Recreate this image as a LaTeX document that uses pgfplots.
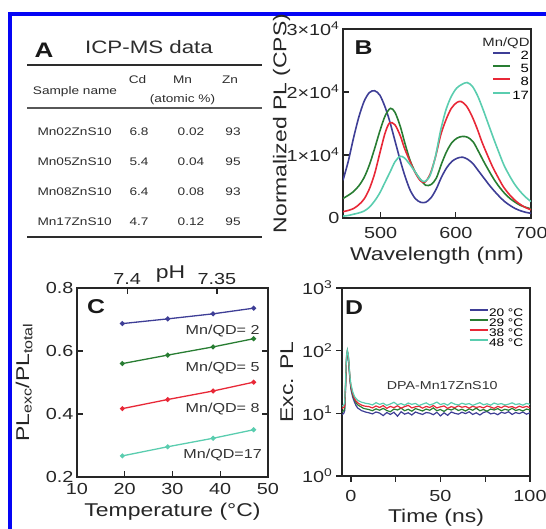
\documentclass[border=0pt]{standalone}
\usepackage{pgfplots}
\pgfplotsset{compat=1.18}
\usepackage{fontspec}
\setmainfont{Liberation Sans}[FakeStretch=1.24]
\definecolor{cB}{RGB}{62,62,150}
\definecolor{cG}{RGB}{40,125,50}
\definecolor{cR}{RGB}{232,40,55}
\definecolor{cC}{RGB}{90,205,175}
\definecolor{frameblue}{RGB}{5,5,245}
\definecolor{txt}{RGB}{45,45,45}
\pgfplotsset{
 panel/.style={scale only axis, anchor=south west,
  axis line style={line width=1.4pt, black!85},
  every tick/.style={line width=1.2pt, black!85},
  major tick length=6pt,
  /pgf/number format/assume math mode=true,
  tick label style={font=\fontsize{16}{19}\selectfont, text=black!85},
  label style={font=\fontsize{18.5}{22}\selectfont, text=black!85},
 },
}
\begin{document}
\begin{tikzpicture}[x=1pt,y=1pt]
\path[use as bounding box] (0,0) rectangle (546,529);
\draw[frameblue, line width=4pt, line join=miter] (10.3,-10) -- (10.3,515.2) -- (560,515.2);
% ---------------- Panel A (table) ----------------
\node[font=\fontsize{21}{24}\selectfont\bfseries, anchor=base, text=black!90] at (44,471) {A};
\node[font=\fontsize{18}{21}\selectfont, anchor=base, text=txt] at (149,475) {ICP-MS data};
\draw[line width=2pt, txt] (27,464) -- (262,464);
\draw[line width=1.2pt, txt!80] (27,421) -- (262,421);
\draw[line width=2.5pt, txt] (27,292) -- (262,292);
\begin{scope}[every node/.style={font=\fontsize{11}{13}\selectfont, text=txt}]
\node at (75,437) {Sample name};
\node at (137.5,449) {Cd};
\node at (182.5,449) {Mn};
\node at (230,449) {Zn};
\node at (182.5,429) {(atomic \%)};
\node[anchor=west] at (34,397) {Mn02ZnS10};
\node[anchor=west] at (34,367) {Mn05ZnS10};
\node[anchor=west] at (34,337) {Mn08ZnS10};
\node[anchor=west] at (34,307) {Mn17ZnS10};
\node at (139,397) {6.8}; \node at (191,397) {0.02}; \node at (233,397) {93};
\node at (139,367) {5.4}; \node at (191,367) {0.04}; \node at (233,367) {95};
\node at (139,337) {6.4}; \node at (191,337) {0.08}; \node at (233,337) {93};
\node at (139,307) {4.7}; \node at (191,307) {0.12}; \node at (233,307) {95};
\end{scope}
% ---------------- Panel B ----------------
\begin{axis}[panel, at={(343pt,311pt)}, width=188pt, height=189pt,
 xmin=450, xmax=700, ymin=0, ymax=30000,
 xtick={500,600,700}, ytick={0,10000,20000,30000},
 yticklabels={0,1×10\textsuperscript{4},2×10\textsuperscript{4},3×10\textsuperscript{4}},
 scaled y ticks=false, tick align=inside, tick pos=left,
 xticklabel style={yshift=-6pt},
 xlabel={Wavelength (nm)}, ylabel={Normalized PL (CPS)},
 xlabel style={at={(axis description cs:0.5,-0.2)}, anchor=center},
 ylabel style={at={(axis description cs:-0.327,0.5)}, anchor=center},
 legend style={at={(rel axis cs:1,1)}, anchor=north east, xshift=-1pt, yshift=-20pt,
   draw=none, fill=none, inner sep=0pt, font=\fontsize{12}{13}\selectfont,
   nodes={inner sep=1pt, text height=9pt, text depth=2.3pt}, row sep=0pt},
 legend cell align=right,
 legend image code/.code={\draw[#1, line width=2pt] (0pt,3pt) -- (17pt,3pt);},
]
\addplot[cB, line width=1.6pt, smooth] table {
450 6000
457 9000
464 12700
471 16000
478 18500
485 19900
492 20200
499 19500
506 17600
512 15400
519 12300
526 9200
532 6800
539 4500
546 3100
553 2500
560 2500
567 3200
574 4600
581 6500
588 8000
595 9000
602 9500
609 9650
616 9300
623 8600
630 7500
637 6400
644 5300
651 4300
658 3400
665 2600
672 2000
679 1500
686 1150
693 900
700 750
};
\addlegendentry{2}
\addplot[cG, line width=1.6pt, smooth] table {
450 3100
457 3600
464 4200
471 5100
478 6400
485 8400
492 11000
499 13800
506 16200
513 17400
519 16800
526 14600
532 12000
539 9200
546 7300
553 6100
560 5200
567 5300
574 6300
581 8600
588 10600
595 12000
602 12700
609 12950
616 12800
623 12100
630 10600
637 9000
644 7500
651 6100
658 4900
665 3900
672 3100
679 2500
686 2000
693 1700
700 1450
};
\addlegendentry{5}
\addplot[cR, line width=1.6pt, smooth] table {
450 1000
457 1200
464 1500
471 2100
478 3000
485 4600
492 7000
499 10300
506 13500
512 15100
519 14800
526 13100
532 11000
539 9000
546 7200
553 5900
559 5700
566 7000
573 9700
580 13200
587 15600
594 17400
601 18300
607 18500
614 17800
621 16300
628 14300
635 12000
642 10000
649 8100
656 6500
663 5000
670 3900
677 3000
684 2300
692 1700
700 1300
};
\addlegendentry{8}
\addplot[cC, line width=1.6pt, smooth] table {
450 300
457 400
464 600
471 800
478 1100
485 1700
492 2700
499 4000
506 5700
513 7400
519 8900
526 9800
532 9500
539 8500
546 7300
553 6100
559 5800
566 6800
573 9800
580 14000
587 17200
594 19300
601 20600
608 21200
615 21500
622 20900
629 19400
636 17300
643 15000
650 12700
657 10500
664 8400
671 6800
678 5400
685 4300
692 3400
700 2600
};
\addlegendentry{17}
\end{axis}
\node[font=\fontsize{12}{14}\selectfont, text=black!85] at (506,486) {Mn/QD};
\node[font=\fontsize{20}{22}\selectfont\bfseries, text=black!90] at (363.5,481) {B};
% ---------------- Panel C ----------------
\begin{axis}[panel, at={(77pt,52pt)}, width=191pt, height=189pt,
 xmin=10, xmax=50, ymin=0.2, ymax=0.8,
 xtick={10,20,30,40,50}, ytick={0.2,0.4,0.6,0.8},
 tick align=inside, xtick pos=left, ytick pos=both, yticklabel pos=left,
 yticklabel style={/pgf/number format/fixed, /pgf/number format/precision=1},
 xticklabel style={yshift=-3pt},
 xlabel={Temperature (°C)}, ylabel={PL\textsubscript{exc}/PL\textsubscript{total}},
 xlabel style={at={(axis description cs:0.5,-0.185)}, anchor=center},
 ylabel style={at={(axis description cs:-0.277,0.5)}, anchor=center},
]
\addplot[cB, line width=1.3pt, mark=*, mark size=1.8pt] coordinates {(19.5,0.687) (29,0.702) (38.5,0.718) (47,0.736)};
\addplot[cG, line width=1.3pt, mark=*, mark size=1.8pt] coordinates {(19.5,0.560) (29,0.587) (38.5,0.613) (47,0.639)};
\addplot[cR, line width=1.3pt, mark=*, mark size=1.8pt] coordinates {(19.5,0.417) (29,0.446) (38.5,0.473) (47,0.501)};
\addplot[cC, line width=1.3pt, mark=*, mark size=1.8pt] coordinates {(19.5,0.267) (29,0.296) (38.5,0.323) (47,0.350)};
\begin{scope}[every node/.style={font=\fontsize{13}{15}\selectfont, text=black!80}]
\node at (axis cs:40.5,0.664) {Mn/QD= 2};
\node at (axis cs:40.5,0.546) {Mn/QD= 5};
\node at (axis cs:40.5,0.416) {Mn/QD= 8};
\node at (axis cs:40.5,0.271) {Mn/QD=17};
\end{scope}
\end{axis}
\begin{axis}[panel, at={(77pt,52pt)}, width=191pt, height=189pt,
 xmin=10, xmax=50, ymin=0, ymax=1,
 axis x line*=top, hide y axis,
 xtick={20.5,39.3}, xticklabels={7.4,7.35}, tick align=inside,
 xlabel={pH}, xlabel style={at={(axis description cs:0.49,1.072)}, anchor=center},
]
\end{axis}
\node[font=\fontsize{20}{22}\selectfont\bfseries, text=black!90] at (96,222) {C};
% ---------------- Panel D ----------------
\begin{axis}[panel, at={(342pt,53pt)}, width=188pt, height=188pt,
 xmin=-5, xmax=100, ymin=1, ymax=1000, ymode=log,
 xtick={0,25,50,75,100}, xticklabels={0,{},50,{},100},
 ytick={1,10,100,1000},
 yticklabels={10\textsuperscript{0},10\textsuperscript{1},10\textsuperscript{2},10\textsuperscript{3}},
 yminorticks=false, tick align=outside, tick pos=left,
 xticklabel style={yshift=-5pt},
 xlabel={Time (ns)}, ylabel={Exc. PL},
 xlabel style={at={(axis description cs:0.5,-0.222)}, anchor=center},
 ylabel style={at={(axis description cs:-0.293,0.5)}, anchor=center},
 legend style={at={(rel axis cs:1,1)}, anchor=north east, xshift=-6pt, yshift=-20pt,
   draw=none, fill=none, inner sep=0pt, font=\fontsize{11}{12}\selectfont,
   nodes={inner sep=0.5pt, text height=8pt, text depth=1pt}, row sep=0pt},
 legend cell align=left,
 legend image code/.code={\draw[#1, line width=2pt] (0pt,3pt) -- (18pt,3pt);},
]
\addplot[cB, line width=1.2pt] table {
-5 9.5
-4 10
-3.5 11
-3 25
-2.5 70
-2 95
-1.5 80
-1 50
-0.5 32
0 24
1 18
2 15
3 13
4 12
5 11.5
6 11
7 10.8
8 10.5
10 10.2
12 9.8
14 10.5
16 10.1
18 9.2
20 10.3
22 9.6
24 10.4
26 9.0
28 10.6
30 9.7
32 10.2
34 9.4
36 10.5
38 10.0
40 9.6
42 10.3
44 10.1
46 9.5
48 10.4
50 9.1
52 10.2
54 9.3
56 10.5
58 10.0
60 9.7
62 10.4
64 9.9
66 10.6
68 9.6
70 10.2
72 9.4
74 10.3
76 10.7
78 9.8
80 10.1
82 9.5
84 10.4
86 10.0
88 10.6
90 9.6
92 10.3
94 9.9
96 10.5
98 9.7
100 10.2
};
\addlegendentry{20 °C}
\addplot[cG, line width=1.2pt] table {
-5 10.5
-4 11
-3.5 12
-3 28
-2.5 75
-2 97
-1.5 82
-1 52
-0.5 34
0 26
1 19.5
2 16.5
3 14.5
4 13.5
5 13
6 12.5
7 12
8 11.8
10 11.5
12 11.0
14 11.8
16 11.2
18 12.0
20 11.1
22 10.6
24 11.7
26 11.3
28 12.1
30 11.0
32 11.6
34 10.8
36 11.9
38 11.4
40 10.9
42 11.7
44 11.2
46 12.2
48 11.0
50 11.5
52 10.7
54 11.8
56 11.3
58 12.0
60 11.1
62 11.6
64 10.9
66 11.8
68 11.2
70 12.1
72 11.0
74 11.5
76 10.8
78 11.7
80 11.3
82 11.9
84 11.0
86 11.6
88 11.2
90 12.0
92 11.1
94 11.5
96 10.9
98 11.7
100 11.3
};
\addlegendentry{29 °C}
\addplot[cR, line width=1.2pt] table {
-5 12
-4 12.5
-3.5 13
-3 30
-2.5 78
-2 98
-1.5 84
-1 54
-0.5 35
0 27
1 20.5
2 17
3 15.5
4 14.5
5 14
6 13.5
7 13.2
8 13
10 12.8
12 12.2
14 13.1
16 12.4
18 13.3
20 12.0
22 12.9
24 12.3
26 13.2
28 12.1
30 12.8
32 13.4
34 12.2
36 12.7
38 13.0
40 12.1
42 12.9
44 12.4
46 13.3
48 12.2
50 12.7
52 13.1
54 12.0
56 12.8
58 12.3
60 13.2
62 12.5
64 12.9
66 12.1
68 13.0
70 12.4
72 12.8
74 12.2
76 13.1
78 12.6
80 12.0
82 12.9
84 12.3
86 13.2
88 12.5
90 12.8
92 12.1
94 13.0
96 12.4
98 12.9
100 12.3
};
\addlegendentry{38 °C}
\addplot[cC, line width=1.2pt] table {
-5 13
-4 13.5
-3.5 15
-3 33
-2.5 82
-2 102
-1.5 87
-1 57
-0.5 37
0 29
1 22
2 18.5
3 17
4 16
5 15.5
6 15
7 14.8
8 14.5
10 14.2
12 13.6
14 14.8
16 13.9
18 14.5
20 13.4
22 14.1
24 15.0
26 13.7
28 14.3
30 13.5
32 14.6
34 13.9
36 14.4
38 13.3
40 14.0
42 14.7
44 13.6
46 14.2
48 15.1
50 13.8
52 14.4
54 13.5
56 14.9
58 14.0
60 13.6
62 14.5
64 13.9
66 14.3
68 13.4
70 14.1
72 14.8
74 13.7
76 14.2
78 13.5
80 14.6
82 13.9
84 14.3
86 13.6
88 14.0
90 14.7
92 13.8
94 14.2
96 13.5
98 14.4
100 13.9
};
\addlegendentry{48 °C}
\node[font=\fontsize{11.5}{13}\selectfont, text=black!80] at (axis cs:51,28) {DPA-Mn17ZnS10};
\end{axis}
\node[font=\fontsize{20}{22}\selectfont\bfseries, text=black!90] at (354,221) {D};
\end{tikzpicture}
\end{document}
